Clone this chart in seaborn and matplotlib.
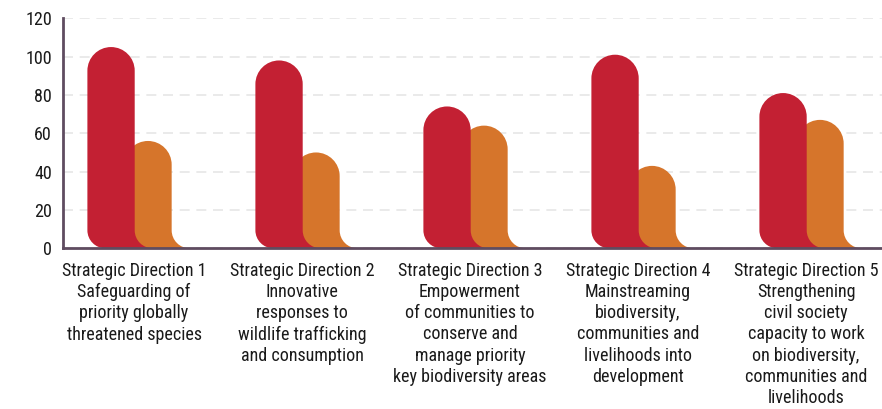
import matplotlib
matplotlib.use("Agg")

import matplotlib.pyplot as plt
import matplotlib.transforms as mtransforms
import pandas as pd
import seaborn as sns
from matplotlib.patches import PathPatch
from matplotlib.path import Path

directions = [
    "Strategic Direction 1\nSafeguarding of\npriority globally\nthreatened species",
    "Strategic Direction 2\nInnovative\nresponses to\nwildlife trafficking\nand consumption",
    "Strategic Direction 3\nEmpowerment\nof communities to\nconserve and\nmanage priority\nkey biodiversity areas",
    "Strategic Direction 4\nMainstreaming\nbiodiversity,\ncommunities and\nlivelihoods into\ndevelopment",
    "Strategic Direction 5\nStrengthening\ncivil society\ncapacity to work\non biodiversity,\ncommunities and\nlivelihoods",
]
series_names = ["Series A", "Series B"]
series_a = [105, 98, 74, 101, 81]
series_b = [56, 50, 64, 43, 67]
y_ticks = [0, 20, 40, 60, 80, 100, 120]

RED = "#c32033"
ORANGE = "#d6752b"
SPINE = "#5f4c60"

df = pd.DataFrame({
    "direction": directions * 2,
    "series": [series_names[0]] * 5 + [series_names[1]] * 5,
    "value": series_a + series_b,
})

sns.set_theme(style="white")
plt.rcParams["font.family"] = ["Roboto Condensed", "DejaVu Sans"]

fig = plt.figure(figsize=(8.82, 4.09), dpi=100)
ax = fig.add_axes([63 / 882, 160.7 / 409, 1 - 63 / 882, 230 / 409])

sns.barplot(
    data=df, x="direction", y="value", hue="series",
    palette=[RED, ORANGE], width=0.44, saturation=1, legend=False, ax=ax,
)

ax.set_xlim(-0.396, 4.479)
ax.set_ylim(0, 120)
ax.set_yticks(y_ticks)
ax.set_xlabel("")
ax.set_ylabel("")

# pixels per data unit, used to keep the rounded ends circular
p0 = ax.transData.transform((0, 0))
p1 = ax.transData.transform((1, 1))
px_x = p1[0] - p0[0]
px_y = p1[1] - p0[1]

k = 0.5523
corner_px = 18
widen = 1.28


def pill_path(xc, w, h):
    x0, x1 = xc - w / 2, xc + w / 2
    rx = w / 2
    ry = rx * px_x / px_y
    cx = corner_px / px_x
    cy = corner_px / px_y
    verts = [
        (x0 + cx, 0),
        (x1 + cx, 0),
        (x1 + cx - k * cx, 0), (x1, cy - k * cy), (x1, cy),
        (x1, h - ry),
        (x1, h - ry + k * ry), (xc + k * rx, h), (xc, h),
        (xc - k * rx, h), (x0, h - ry + k * ry), (x0, h - ry),
        (x0, cy),
        (x0, cy - k * cy), (x0 + cx - k * cx, 0), (x0 + cx, 0),
        (x0 + cx, 0),
    ]
    codes = [Path.MOVETO, Path.LINETO] + [Path.CURVE4] * 3 + [Path.LINETO] \
        + [Path.CURVE4] * 6 + [Path.LINETO] + [Path.CURVE4] * 3 + [Path.CLOSEPOLY]
    return Path(verts, codes)


# swap the flat seaborn bars for rounded shapes; first series sits in front
for i, container in enumerate(ax.containers):
    for bar in container:
        xc = bar.get_x() + bar.get_width() / 2
        w = bar.get_width() * widen
        h = bar.get_height()
        bar.set_visible(False)
        ax.add_patch(PathPatch(
            pill_path(xc, w, h), facecolor=bar.get_facecolor(),
            edgecolor="none", zorder=2 - i * 0.5,
        ))

ax.grid(axis="y", color="#e6e6e6", linestyle=(0, (6, 4)), linewidth=1.2, zorder=0)
ax.set_axisbelow(True)
for side in ["top", "right"]:
    ax.spines[side].set_visible(False)
for side in ["left", "bottom"]:
    ax.spines[side].set_color(SPINE)
    ax.spines[side].set_linewidth(2)
    ax.spines[side].set_zorder(3)

ax.tick_params(axis="both", length=0, labelsize=13, colors="#1a1a1a")
ax.tick_params(axis="y", pad=8)
ax.tick_params(axis="x", pad=10)

shift = mtransforms.ScaledTranslation(4.5 / 100, 0, fig.dpi_scale_trans)
for label in ax.get_xticklabels():
    label.set_transform(label.get_transform() + shift)
    label.set_linespacing(1.22)

fig.savefig("out.png", dpi=100)
